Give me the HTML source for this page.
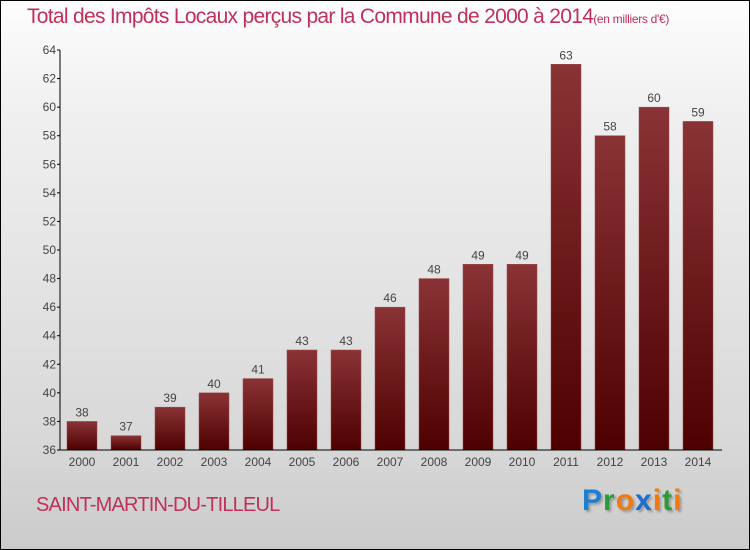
<!DOCTYPE html>
<html><head><meta charset="utf-8"><style>
html,body{margin:0;padding:0;}
body{width:750px;height:550px;overflow:hidden;font-family:"Liberation Sans",sans-serif;}
#frame{position:absolute;left:0;top:0;width:748px;height:548px;border:1px solid #000;background:linear-gradient(#fdfdfd,#f0f0f0 20%,#d8d8d8 80%,#cbcbcb);}
#title{position:absolute;left:27px;top:5px;font-size:21px;color:#c0305a;white-space:nowrap;letter-spacing:-0.7px;}
#title small{font-size:12px;letter-spacing:-0.3px;}
#commune{position:absolute;left:36px;top:494px;font-size:20px;color:#c0305a;letter-spacing:-0.8px;}
#logo{position:absolute;left:582px;top:484px;font-size:30px;font-weight:bold;letter-spacing:1px;text-shadow:2px 2px 2px #999;}
svg{position:absolute;left:0;top:0;}
</style></head><body>
<div id="frame"></div>
<div id="title">Total des Impôts Locaux perçus par la Commune de 2000 à 2014<small>(en milliers d'€)</small></div>
<div id="commune">SAINT-MARTIN-DU-TILLEUL</div>
<div id="logo"><span style="color:#1a7fd0">P</span><span style="color:#2a9a3a">r</span><span style="color:#f07a10">o</span><span style="color:#1a6fd0">x</span><span style="color:#f07a10">i</span><span style="color:#2a9a3a">t</span><span style="color:#f07a10">i</span></div>
<svg id="chart" width="750" height="550">
<defs><linearGradient id="bg" x1="0" y1="0" x2="0" y2="1"><stop offset="0" stop-color="#8a3336"/><stop offset="1" stop-color="#4e0000"/></linearGradient></defs>
</svg>
<script>
const years=["2000","2001","2002","2003","2004","2005","2006","2007","2008","2009","2010","2011","2012","2013","2014"];
const values=[38,37,39,40,41,43,43,46,48,49,49,63,58,60,59];
const yTicks=[36,38,40,42,44,46,48,50,52,54,56,58,60,62,64];
const svg=document.getElementById('chart');const NS='http://www.w3.org/2000/svg';
const y=v=>450-(v-36)*400/28;
const x=i=>82+i*44;
function mk(t,a){const e=document.createElementNS(NS,t);for(const k in a)e.setAttribute(k,a[k]);svg.appendChild(e);return e;}
values.forEach((v,i)=>{
const r=mk('rect',{x:x(i)-15,y:y(v),width:30,height:450-y(v),fill:'url(#bg)',stroke:'#9a4a4a','stroke-width':0.5});


const t=mk('text',{x:x(i),y:y(v)-5,'text-anchor':'middle','font-size':12,fill:'#444'});t.textContent=v;


const l=mk('text',{x:x(i),y:466,'text-anchor':'middle','font-size':12,fill:'#444'});l.textContent=years[i];


});
yTicks.forEach(v=>{
mk('line',{x1:57,x2:60,y1:y(v),y2:y(v),stroke:'#000'});
const t=mk('text',{x:56,y:y(v)+4,'text-anchor':'end','font-size':12,fill:'#444'});t.textContent=v;


});
const ya=mk('line',{x1:60,x2:60,y1:y(64),y2:450,stroke:'#000'});


const xa=mk('line',{x1:60,x2:722,y1:450,y2:450,stroke:'#000'});


</script>
</body></html>
